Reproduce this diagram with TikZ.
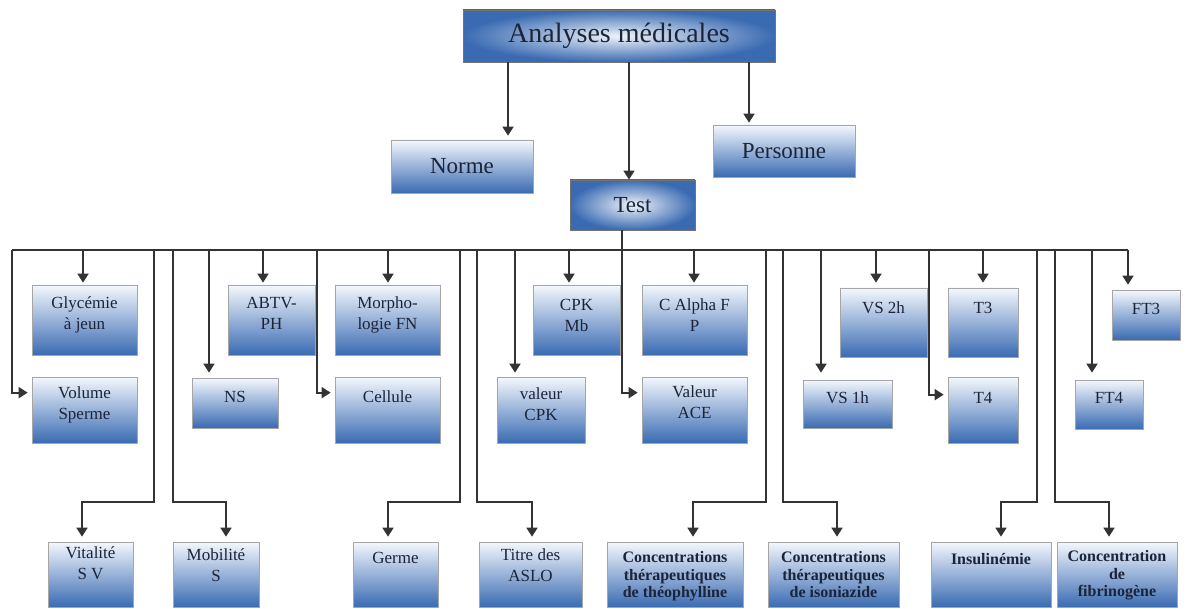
\documentclass[tikz,border=0pt]{standalone}
\usepackage{fontspec}
\setmainfont{Liberation Serif}
\usetikzlibrary{arrows.meta,fit}

\definecolor{boxblue}{HTML}{3A6BB2}
\definecolor{paleblue}{HTML}{F4F8FD}
\definecolor{inkgray}{HTML}{333333}
\definecolor{textnavy}{HTML}{1C2438}

\tikzset{
  lowbox/.style={draw=black!35, line width=0.7pt, top color=paleblue,
    bottom color=boxblue, inner sep=0pt},
  mainbox/.style={draw=black!55, line width=0.9pt, inner color=white!92!boxblue,
    outer color=boxblue, inner sep=0pt, text=textnavy},
  headbox/.style={draw=black!35, line width=0.7pt, top color=paleblue,
    bottom color=boxblue, inner sep=0pt, text=textnavy},
  boxtext/.style={font=\fontsize{17}{21}\selectfont, align=center,
    inner sep=0pt, text=textnavy},
  boldtext/.style={font=\fontsize{16}{17.5}\selectfont\bfseries, align=center,
    inner sep=0pt, text=textnavy},
  wire/.style={draw=inkgray, line width=1.7pt},
  arr/.style={wire, -{Triangle[length=9pt,width=11pt]}, shorten >=4pt},
}

% leaf box: [text style] name, x1, y1, x2, y2, top padding, text
\newcommand\leafbox[8][boxtext]{%
  \node[lowbox, fit={(#3,#4) (#5,#6)}] (#2) {};
  \node[#1, anchor=north] (#2-t) at ([yshift=-#7pt]#2.north) {#8};
}
% straight drop from the bus: name, x on the bus, gap before the box
\newcommand\busdrop[3]{%
  \coordinate (#1-in) at (#2,250);
  \draw[arr, shorten >=#3pt] (#1-in) -- (#1-in |- #1.north);
}
% drop then turn right into the side of a box: name, x on the bus, depth below box top
\newcommand\busside[3]{%
  \coordinate (#1-in) at (#2,250);
  \draw[arr] (#1-in) |- ([yshift=-#3pt]#1.north west);
}
% long drop to the bottom row: name, x on the bus, x of the arrow
\newcommand\busbranch[3]{%
  \coordinate (#1-in) at (#2,250);
  \coordinate (#1-at) at (#3,0);
  \draw[arr, shorten >=5pt] (#1-in) -- ++(0,252) -| (#1.north -| #1-at);
}

\begin{document}
\begin{tikzpicture}[x=1pt, y=-1pt]
\fill[white] (0,0) rectangle (1188,609);
\useasboundingbox (0,0) rectangle (1188,609);

% top level
\node[mainbox, minimum width=312pt, minimum height=52pt,
  font=\fontsize{28}{32}\selectfont] (A) at (619,36) {Analyses médicales};
\node[headbox, minimum width=142pt, minimum height=53pt,
  font=\fontsize{23}{27}\selectfont] (norme) at (462,166.5) {Norme};
\node[headbox, minimum width=142pt, minimum height=52pt,
  font=\fontsize{23}{27}\selectfont] (pers) at (784,151) {Personne};
\node[mainbox, minimum width=125pt, minimum height=50pt,
  font=\fontsize{23}{27}\selectfont] (test) at (632.5,205) {Test};

\coordinate (cn) at (508,0);
\coordinate (ct) at (629,0);
\coordinate (cp) at (749,0);
\draw[arr] (A.south -| cn) -- (norme.north -| cn);
\draw[arr, shorten >=0pt] (A.south -| ct) -- (test.north -| ct);
\draw[arr, shorten >=2pt] (A.south -| cp) -- (pers.north -| cp);

% upper row of tests
\leafbox{gly}{32}{285}{137}{355}{12}{Glycémie\\à jeun}
\leafbox{abtv}{228}{285}{315}{355}{12}{ABTV-\\PH}
\leafbox{morph}{335}{285}{440}{355}{12}{Morpho-\\logie FN}
\leafbox{cpkmb}{533}{285}{620}{355}{14}{CPK\\Mb}
\leafbox{calpha}{642}{285}{747}{355}{14}{C Alpha F\\P}
\leafbox{vsdeux}{840}{288}{927}{357}{14}{VS 2h}
\leafbox{tthree}{948}{288}{1018}{357}{14}{T3}
\leafbox{ftthree}{1112}{290}{1180}{340}{13}{FT3}

% second row of tests
\leafbox{vol}{32}{377}{137}{443}{10}{Volume\\Sperme}
\leafbox{ns}{192}{378}{278}{428}{13}{NS}
\leafbox{cell}{335}{377}{440}{443}{14}{Cellule}
\leafbox{vcpk}{497}{377}{585}{443}{11}{valeur\\CPK}
\leafbox{ace}{642}{377}{747}{443}{9}{Valeur\\ACE}
\leafbox{vsun}{803}{380}{892}{428}{12}{VS 1h}
\leafbox{tfour}{948}{377}{1018}{443}{15}{T4}
\leafbox{ftfour}{1075}{380}{1143}{429}{12}{FT4}

% bottom row of tests
\leafbox{vit}{48}{542}{133}{607}{5}{Vitalité\\S V}
\leafbox{mob}{173}{542}{259}{607}{7}{Mobilité\\S}
\leafbox{germe}{353}{542}{438}{607}{10}{Germe}
\leafbox{titre}{479}{542}{582}{607}{7}{Titre des\\ASLO}
\leafbox[boldtext]{ctheo}{607}{542}{743}{607}{10}{Concentrations\\thérapeutiques\\de théophylline}
\leafbox[boldtext]{ciso}{768}{542}{899}{607}{10}{Concentrations\\thérapeutiques\\de isoniazide}
\leafbox[boldtext]{insu}{931}{542}{1051}{607}{12}{Insulinémie}
\leafbox[boldtext]{cfib}{1057}{542}{1177}{607}{9}{Concentration\\de\\fibrinogène}

% distribution bus under Test
\coordinate (busL) at (12,250);
\coordinate (busR) at (1128,250);
\draw[wire] (busL) -- (busR);
\coordinate (cace) at (622,0);
\draw[arr] (test.south -| cace) |- ([yshift=-16pt]ace.north west);

\busdrop{gly}{83}{2}
\busdrop{abtv}{263}{2}
\busdrop{morph}{388}{2}
\busdrop{cpkmb}{569}{2}
\busdrop{calpha}{694}{2}
\busdrop{vsdeux}{876}{5}
\busdrop{tthree}{983}{5}
\busdrop{ftthree}{1128}{5}

\busdrop{ns}{209}{5}
\busdrop{vcpk}{515}{4}
\busdrop{vsun}{821}{7}
\busdrop{ftfour}{1092}{7}

\busside{vol}{12}{16}
\busside{cell}{317}{16}
\busside{tfour}{929}{18}

\busbranch{vit}{154}{82}
\busbranch{mob}{173}{226}
\busbranch{germe}{460}{388}
\busbranch{titre}{477}{532}
\busbranch{ctheo}{766}{693}
\busbranch{ciso}{783}{837}
\busbranch{insu}{1037}{1001}
\busbranch{cfib}{1055}{1109}
\end{tikzpicture}
\end{document}
